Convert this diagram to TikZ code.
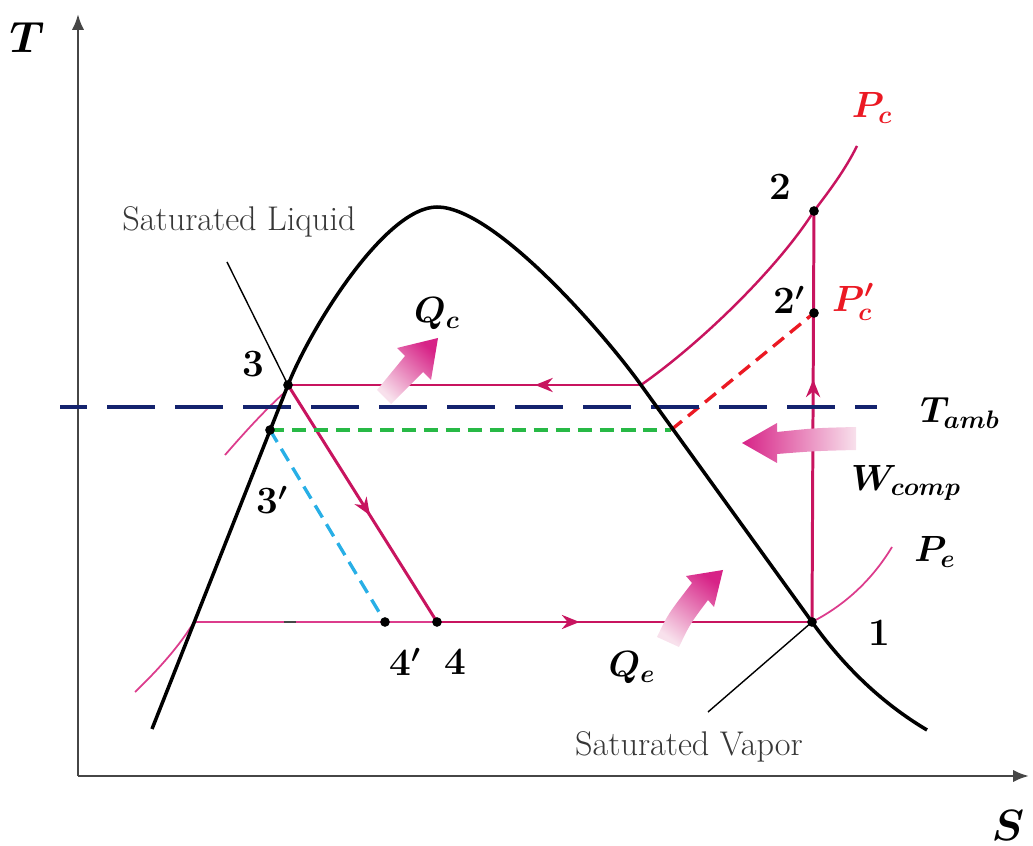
\documentclass[tikz,border=0pt]{standalone}
\usepackage{amsmath}
\usepackage{bm}
\usepackage{xcolor}
\usepackage{tikz}
\usetikzlibrary{arrows.meta, decorations.markings}

\definecolor{cyclecol}{RGB}{200,20,95}
\definecolor{pinkline}{RGB}{220,60,140}
\definecolor{ambnavy}{RGB}{20,35,110}
\definecolor{subgreen}{RGB}{40,185,70}
\definecolor{subcyan}{RGB}{40,175,230}
\definecolor{pcred}{RGB}{235,25,35}
\definecolor{heatmag}{RGB}{215,35,135}
\definecolor{heatfade}{RGB}{248,225,236}
\definecolor{axisgray}{RGB}{70,70,70}
\definecolor{textgray}{RGB}{55,55,55}

\begin{document}
\begin{tikzpicture}[x=0.2mm, y=-0.2mm,
    dome/.style={line width=2pt, black},
    cycleline/.style={line width=1.7pt, cyclecol},
    thinpink/.style={line width=1pt, pinkline},
    satline/.style={line width=0.8pt, black},
    subdash/.style={line width=1.9pt, dash pattern=on 8pt off 4.5pt},
    statept/.style={circle, fill=black, inner sep=0pt, minimum size=5.5pt},
    ptlabel/.style={font=\fontsize{22}{24}\selectfont\bfseries},
    mlabel/.style={font=\fontsize{22}{24}\selectfont},
    satlabel/.style={font=\fontsize{19.5}{22}\selectfont, text=textgray},
    heatarrow/.style={top color=heatmag, bottom color=heatfade},
    midflow/.style={decoration={markings,
        mark=at position #1 with {\arrow{Stealth[length=10pt, width=8pt]}}},
        postaction=decorate}
  ]
  \useasboundingbox (0,0) rectangle (1033,846);

  % State points
  \coordinate (p1) at (812,622);
  \coordinate (p2) at (814,211);
  \coordinate (p2p) at (814,313);
  \coordinate (p3) at (288,385);
  \coordinate (p3p) at (270,430);
  \coordinate (p4) at (437,622);
  \coordinate (p4p) at (385,622);
  \coordinate (pcsat) at (641,385);
  \coordinate (gsat) at (671,430);
  \coordinate (pesat) at (194,622);

  % Axes
  \coordinate (origin) at (78,776);
  \coordinate (tend) at (78,14);
  \coordinate (send) at (1029,776);
  \draw[line width=1.5pt, axisgray, -{Latex[length=9pt, width=7pt]}] (origin) -- (tend);
  \draw[line width=1.5pt, axisgray, -{Latex[length=9pt, width=7pt]}] (origin) -- (send);
  \node[font=\fontsize{25}{28}\selectfont] (tlab) at (27,38) {$\bm{T}$};
  \node[font=\fontsize{24}{27}\selectfont] (slab) at (1008,825) {$\bm{S}$};

  % Isobars (thin parts)
  \draw[thinpink] (135,692) .. controls (160,668) and (180,645) .. (pesat);
  \draw[thinpink] (pesat) -- (p4);
  \draw[thinpink] (p1) .. controls (845,605) and (872,580) .. (892,547);
  \draw[thinpink] (225,455) .. controls (245,432) and (265,410) .. (285,392);
  \draw[line width=1.6pt, axisgray] (284,622) -- (296,622);

  % Condenser pressure curve
  \draw[line width=1.4pt, cyclecol] (pcsat) .. controls (705,340) and (780,265) .. (p2)
      .. controls (830,190) and (845,170) .. (857,146);

  % Cycle
  \draw[cycleline, midflow=0.59] (p1) -- (p2);
  \draw[cycleline, midflow=0.3] (pcsat) -- (p3);
  \draw[cycleline, midflow=0.55] (p3) -- (p4);
  \draw[cycleline, midflow=0.38] (p4) -- (p1);

  % Modified cycle
  \draw[subdash, subgreen] (p3p) -- (gsat);
  \draw[subdash, pcred] (gsat) -- (p2p);
  \draw[subdash, subcyan] (p3p) -- (p4p);

  % Ambient temperature
  \coordinate (amb0) at (60,407);
  \coordinate (amb1) at (877,407);
  \draw[line width=2.8pt, ambnavy, dash pattern=on 9.6mm off 4mm, dash phase=4.2mm] (amb0) -- (amb1);

  % Saturation dome
  \draw[dome] (152,729) -- (p3) .. controls (310,329) and (385,207) .. (437,207)
      .. controls (495,207) and (606,336) .. (pcsat) -- (p1)
      .. controls (850,675) and (890,708) .. (927,730);
  \draw[satline] (227,262) -- (p3);
  \draw[satline] (p1) -- (708,712);

  % Dots
  \foreach \p in {p1,p2,p2p,p3,p3p,p4,p4p}
    \node[statept] (dot-\p) at (\p) {};

  % Heat and work arrows
  \shade[heatarrow, shading angle=-43] (377,390) -- (405,356) -- (397,348) -- (438,338)
      -- (431,380) -- (423,372) -- (391,404) -- cycle;
  \shade[heatarrow, shading angle=-37] (657,637) .. controls (668,614) .. (692,583) -- (686,576)
      -- (723,570) -- (714,607) -- (708,600) .. controls (690,624) .. (679,647) -- cycle;
  \shade[heatarrow, shading angle=90] (856,427) .. controls (815,428) .. (777,432) -- (777,423)
      -- (742,443) -- (777,463) -- (777,454) .. controls (815,451) .. (856,450) -- cycle;

  % Labels
  \node[ptlabel] (l1) at (879,633) {1};
  \node[ptlabel] (l2) at (780,187) {2};
  \node[ptlabel] (l2p) at (789,300) {2$\bm{'}$};
  \node[ptlabel] (l3) at (253,364) {3};
  \node[ptlabel] (l3p) at (272,500) {3$\bm{'}$};
  \node[ptlabel] (l4) at (455,662) {4};
  \node[ptlabel] (l4p) at (405,662) {4$\bm{'}$};
  \node[mlabel, text=pcred] (lpc) at (872,108) {$\bm{P_c}$};
  \node[mlabel, text=pcred] (lpcp) at (853,302) {$\bm{P'_c}$};
  \node[mlabel] (lpe) at (935,552) {$\bm{P_e}$};
  \node[mlabel] (ltamb) at (960,413) {$\bm{T_{amb}}$};
  \node[mlabel] (lw) at (906,483) {$\bm{W_{comp}}$};
  \node[mlabel] (lqc) at (437,314) {$\bm{Q_c}$};
  \node[mlabel] (lqe) at (632,668) {$\bm{Q_e}$};
  \node[satlabel] (lliq) at (239,222) {Saturated Liquid};
  \node[satlabel] (lvap) at (689,747) {Saturated Vapor};
\end{tikzpicture}
\end{document}
